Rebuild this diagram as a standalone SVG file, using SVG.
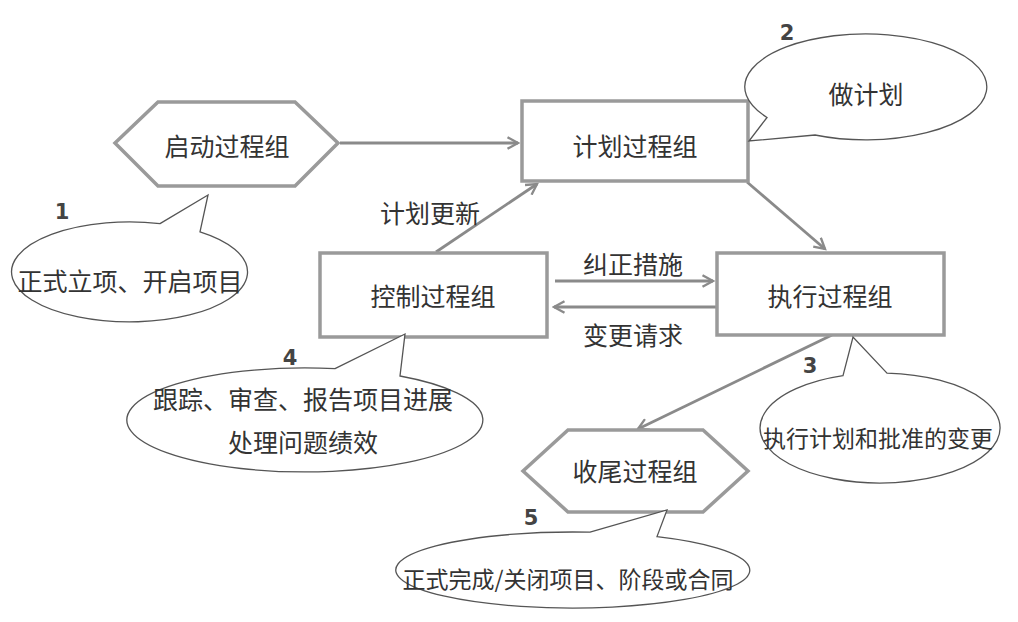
<svg xmlns="http://www.w3.org/2000/svg" width="1018" height="622" viewBox="0 0 1018 622">
<style>
.box{fill:#fff;stroke:#9a9a9a;stroke-width:3.5;stroke-linejoin:miter}
.call{fill:#fff;stroke:#555;stroke-width:1.3;stroke-linejoin:miter}
.t{font-family:"Microsoft YaHei","Noto Sans CJK SC",sans-serif;font-size:25px;fill:#333;text-anchor:middle;dominant-baseline:central}
.ts{font-size:23px}
.num{font-family:"DejaVu Sans","Liberation Sans",sans-serif;font-weight:bold;font-size:21px;fill:#444;text-anchor:middle;dominant-baseline:central}
.c{fill:none;stroke:#8a8a8a;stroke-width:2.8}
</style>
<defs>
<marker id="ah" viewBox="0 0 12 12" refX="10" refY="6" markerWidth="5" markerHeight="5" markerUnits="strokeWidth" orient="auto">
<path d="M1,1 L10,6 L1,11" fill="none" stroke="#8a8a8a" stroke-width="2"/>
</marker>
</defs>
<rect width="1018" height="622" fill="#fff"/>

<g id="connectors">
<line class="c" x1="340" y1="143" x2="518" y2="143" marker-end="url(#ah)"/>
<line class="c" x1="747" y1="182" x2="825" y2="249" marker-end="url(#ah)"/>
<line class="c" x1="436" y1="252" x2="537" y2="184" marker-end="url(#ah)"/>
<line class="c" x1="555" y1="281" x2="713" y2="281" marker-end="url(#ah)"/>
<line class="c" x1="716" y1="307" x2="554" y2="307" marker-end="url(#ah)"/>
<line class="c" x1="832" y1="335" x2="638" y2="429" marker-end="url(#ah)"/>
<text class="t" x="430" y="212">计划更新</text>
<text class="t" x="633" y="263">纠正措施</text>
<text class="t" x="633" y="334">变更请求</text>
</g>

<g id="node-start">
<polygon class="box" points="115,143 158,102 295,102 338,143 295,186 158,186"/>
<text class="t" x="227" y="145">启动过程组</text>
</g>

<g id="node-plan">
<rect class="box" x="522" y="101" width="226" height="80"/>
<text class="t" x="635" y="145">计划过程组</text>
</g>

<g id="node-control">
<rect class="box" x="320" y="253" width="227" height="84"/>
<text class="t" x="433" y="295">控制过程组</text>
</g>

<g id="node-execute">
<rect class="box" x="717" y="253" width="227" height="82"/>
<text class="t" x="830" y="295">执行过程组</text>
</g>

<g id="node-close">
<polygon class="box" points="523,471 568,430 703,430 748,471 703,512 568,512"/>
<text class="t" x="635" y="470">收尾过程组</text>
</g>

<g id="callout-1">
<path class="call" d="M160,223.6 L208,195 L200,231.8 A118 50 0 1 1 160,223.6 Z"/>
<text class="t" x="130" y="280">正式立项、开启项目</text>
<text class="num" x="62" y="212">1</text>
</g>

<g id="callout-2">
<path class="call" d="M767,117.5 L749,141 L815,135 A121 53 0 1 0 767,117.5 Z"/>
<text class="t" x="866" y="93">做计划</text>
<text class="num" x="787" y="33">2</text>
</g>

<g id="callout-3">
<path class="call" d="M843,375.7 L853,337 L887,373.1 A120 55 0 1 1 843,375.7 Z"/>
<text class="t ts" x="878" y="437">执行计划和批准的变更</text>
<text class="num" x="810" y="366">3</text>
</g>

<g id="callout-4">
<path class="call" d="M335,368.7 L405,334 L400,376 A178 52 0 1 1 335,368.7 Z"/>
<text class="t" x="303" y="398">跟踪、审查、报告项目进展</text>
<text class="t" x="303" y="441">处理问题绩效</text>
<text class="num" x="290" y="358">4</text>
</g>

<g id="callout-5">
<path class="call" d="M590,532.2 L667,510 L657,536.6 A177 38 0 1 1 590,532.2 Z"/>
<text class="t ts" x="568" y="578">正式完成/关闭项目、阶段或合同</text>
<text class="num" x="531" y="518">5</text>
</g>
</svg>
